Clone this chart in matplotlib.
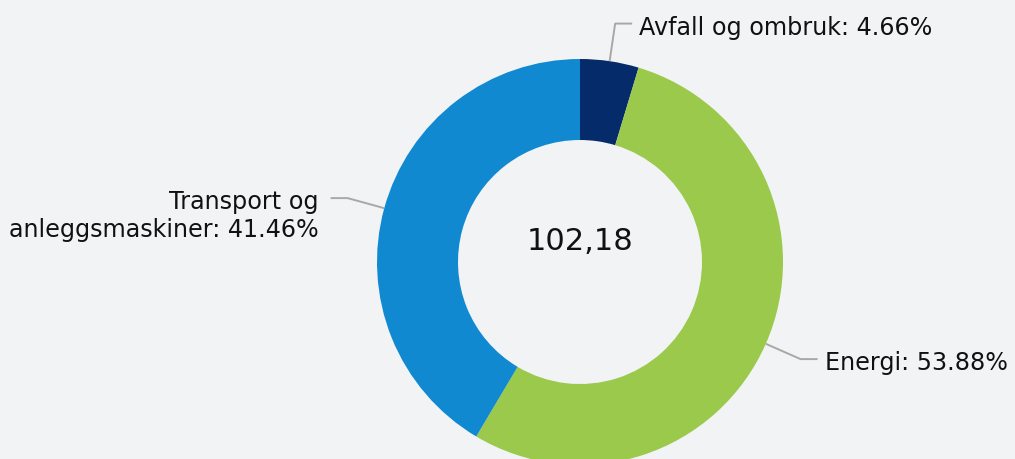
import numpy as np
import matplotlib
matplotlib.use("Agg")
import matplotlib.pyplot as plt

# ---- data ----
categories = ["Avfall og ombruk", "Energi", "Transport og\nanleggsmaskiner"]
shares = [4.66, 53.88, 41.46]
colors = ["#052b6b", "#9bc94b", "#1189d1"]
center_label = "102,18"

W, H = 1015, 459
bg = "#f2f3f5"
fig = plt.figure(figsize=(W / 100, H / 100), dpi=100, facecolor=bg)
ax = fig.add_axes([0, 0, 1, 1])
ax.set_facecolor(bg)

cx, cy = 580, H - 262
R, ring = 203, 81

wedges, _ = ax.pie(shares, colors=colors, startangle=90, counterclock=False,
                   center=(cx, cy), radius=R,
                   wedgeprops=dict(width=ring, linewidth=0))
ax.set_xlim(0, W)
ax.set_ylim(0, H)
ax.set_aspect("auto")
ax.axis("off")

ax.text(cx, cy + 20, center_label, ha="center", va="center", fontsize=22,
        color="#111111", family="DejaVu Sans")

line_col = "#a8a8a8"
elbow_r = 241
for w, lab, val in zip(wedges, categories, shares):
    ang = np.deg2rad((w.theta1 + w.theta2) / 2)
    x0, y0 = cx + R * np.cos(ang), cy + R * np.sin(ang)
    x1, y1 = cx + elbow_r * np.cos(ang), cy + elbow_r * np.sin(ang)
    sgn = 1 if np.cos(ang) >= 0 else -1
    x2 = x1 + sgn * 17
    ax.plot([x0, x1, x2], [y0, y1, y1], color=line_col, lw=1.4,
            solid_capstyle="butt", zorder=1)
    txt = f"{lab}: {val:.2f}%"
    if sgn > 0:
        ax.text(x2 + 7, y1 - 4, txt, ha="left", va="center", fontsize=17.2,
                color="#111111", family="DejaVu Sans")
    else:
        ax.text(x2 - 12, y1 - 18, txt, ha="right", va="center", fontsize=17.2,
                color="#111111", family="DejaVu Sans", linespacing=1.17,
                multialignment="right")

fig.savefig("out.png", dpi=100, facecolor=bg)
